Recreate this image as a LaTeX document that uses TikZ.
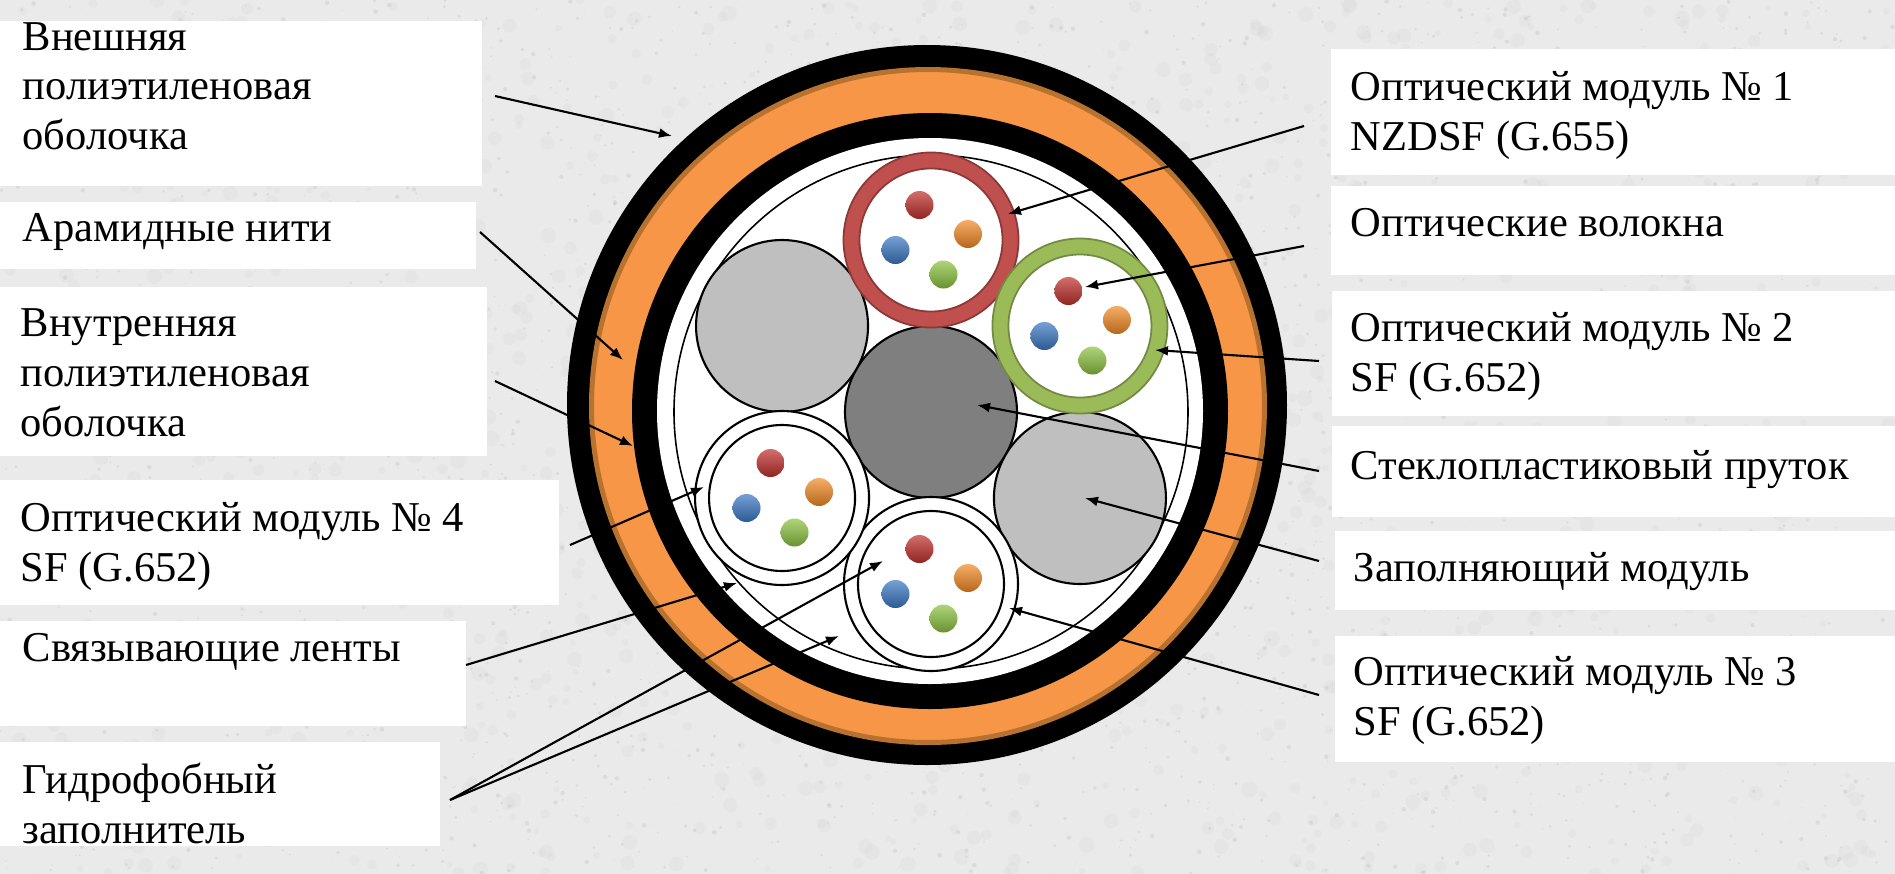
\documentclass[tikz,border=0pt]{standalone}
\usepackage{fontspec}
\setmainfont{Liberation Serif}
\usetikzlibrary{arrows.meta}

\definecolor{granite}{HTML}{EAEAEA}
\definecolor{sheathorange}{HTML}{F79646}
\definecolor{sheathrim}{HTML}{B8722F}
\definecolor{tubered}{HTML}{C0504D}
\definecolor{tuberedrim}{HTML}{8C3836}
\definecolor{tubegreen}{HTML}{9BBB59}
\definecolor{tubegreenrim}{HTML}{728A41}
\definecolor{fillergray}{HTML}{BFBFBF}
\definecolor{rodgray}{HTML}{7F7F7F}
\definecolor{fibred}{HTML}{C0302C}
\definecolor{fiborange}{HTML}{F28A25}
\definecolor{fibblue}{HTML}{3B78C4}
\definecolor{fibgreen}{HTML}{8CC240}

\newcommand{\tagfont}{\fontsize{12.1}{14.2}\selectfont}

% four coloured fibres inside one tube
\newcommand{\fibres}[1]{%
  \foreach \dx/\dy/\fc in {-0.115/0.35/fibred, 0.37/0.06/fiborange,
                           -0.355/-0.10/fibblue, 0.125/-0.345/fibgreen}
    \shade[top color=\fc!70!white, bottom color=\fc!75!black]
      ([shift={(\dx,\dy)}]#1) circle (0.14);
}

\begin{document}
\begin{tikzpicture}[
  tag/.style={fill=white, anchor=north west, inner sep=0pt, outer sep=0pt},
  txt/.style={anchor=north west, inner sep=0pt, align=left, font=\tagfont},
  layer/.style={circle, inner sep=0pt, outer sep=0pt},
  filler/.style={layer, draw, line width=0.6pt, fill=fillergray, minimum size=1.72cm},
  tube/.style={layer, draw, line width=0.6pt, fill=white, minimum size=1.74cm},
  lead/.style={-{Latex[length=1.3mm,width=1mm]}, line width=0.6pt},
]
\useasboundingbox (0,0) rectangle (18.95,-8.74);

% granite backdrop: soft blotches, then fine grain
\fill[granite] (0,0) rectangle (18.95,-8.74);
\pgfmathsetseed{42}
\foreach \i in {1,...,1400}
  \fill[gray!45, opacity=0.12] (18.95*rnd,-8.74*rnd) circle ({0.03+0.05*rnd});
\foreach \i in {1,...,3000}
  \fill[gray!60, opacity=0.25] (18.95*rnd,-8.74*rnd) circle ({0.005+0.018*rnd});

% sheaths, outside in
\node[layer, fill=black, minimum size=7.2cm] (jacket) at (9.27,-4.05) {};
\node[layer, fill=sheathorange, draw=sheathrim, line width=0.05cm,
      minimum size=6.73cm] (aramid) at (9.28,-4.06) {};
\node[layer, fill=black, minimum size=5.96cm] (inner) at (9.30,-4.11) {};
\node[layer, fill=white, minimum size=5.46cm] (core) at (9.30,-4.11) {};
\node[layer, draw, line width=0.45pt, minimum size=5.14cm] (tape) at (9.31,-4.12) {};

% tubes and fillers round the central rod
\coordinate (axis) at (9.31,-4.12);
\node[filler, fill=rodgray] (rod) at (axis) {};
\node[filler] (fillTop) at ([shift={(150:1.72)}]axis) {};
\node[filler] (fillLow) at ([shift={(-30:1.72)}]axis) {};

\node[tube, draw=tubered, line width=0.16cm, minimum size=1.59cm] (tube1) at ([shift={(90:1.72)}]axis) {};
\draw[tuberedrim, line width=0.5pt] (tube1) circle (0.875) (tube1) circle (0.715);
\node[tube, draw=tubegreen, line width=0.16cm, minimum size=1.59cm] (tube2) at ([shift={(30:1.72)}]axis) {};
\draw[tubegreenrim, line width=0.5pt] (tube2) circle (0.875) (tube2) circle (0.715);
\node[tube] (tube3) at ([shift={(-90:1.72)}]axis) {};
\draw[line width=0.6pt] (tube3) circle (0.73);
\node[tube] (tube4) at ([shift={(-150:1.72)}]axis) {};
\draw[line width=0.6pt] (tube4) circle (0.73);

\fibres{tube1}
\fibres{tube2}
\fibres{tube3}
\fibres{tube4}

% where the leaders point
\coordinate (tipJacket) at (6.72,-1.36);
\coordinate (tipAramid) at (6.23,-3.60);
\coordinate (tipInner) at (6.33,-4.46);
\coordinate (tipTube4) at (7.04,-4.87);
\coordinate (tipTape) at (7.37,-5.83);
\coordinate (tipGelA) at (8.83,-5.61);
\coordinate (tipGelB) at (8.39,-6.36);
\coordinate (tipTube1) at (10.08,-2.14);
\coordinate (tipFibre) at (10.85,-2.87);
\coordinate (tipTube2) at (11.55,-3.50);
\coordinate (tipRod) at (9.77,-4.05);
\coordinate (tipFiller) at (10.85,-4.98);
\coordinate (tipTube3) at (10.09,-6.08);

% left captions
\node[tag, minimum width=4.82cm, minimum height=1.65cm] (bOuter) at (0,-0.21) {};
\node[txt] (tOuter) at (0.22,-0.215) {Внешняя\\полиэтиленовая\\оболочка};
\node[tag, minimum width=4.76cm, minimum height=0.67cm] (bAramid) at (0,-2.02) {};
\node[txt] (tAramid) at (0.22,-2.13) {Арамидные нити};
\node[tag, minimum width=4.87cm, minimum height=1.69cm] (bInner) at (0,-2.87) {};
\node[txt] (tInner) at (0.20,-3.08) {Внутренняя\\полиэтиленовая\\оболочка};
\node[tag, minimum width=5.59cm, minimum height=1.25cm] (bTube4) at (0,-4.80) {};
\node[txt] (tTube4) at (0.20,-5.02) {Оптический модуль №~4\\SF (G.652)};
\node[tag, minimum width=4.66cm, minimum height=1.05cm] (bTape) at (0,-6.21) {};
\node[txt] (tTape) at (0.22,-6.33) {Связывающие ленты};
\node[tag, minimum width=4.40cm, minimum height=1.04cm] (bGel) at (0,-7.42) {};
\node[txt] (tGel) at (0.22,-7.62) {Гидрофобный\\заполнитель};

% right captions
\node[tag, minimum width=5.64cm, minimum height=1.255cm] (bTube1) at (13.31,-0.49) {};
\node[txt] (tTube1) at (13.50,-0.71) {Оптический модуль №~1\\NZDSF (G.655)};
\node[tag, minimum width=5.64cm, minimum height=0.885cm] (bFibre) at (13.31,-1.86) {};
\node[txt] (tFibre) at (13.50,-2.08) {Оптические волокна};
\node[tag, minimum width=5.63cm, minimum height=1.25cm] (bTube2) at (13.32,-2.91) {};
\node[txt] (tTube2) at (13.50,-3.12) {Оптический модуль №~2\\SF (G.652)};
\node[tag, minimum width=5.63cm, minimum height=0.91cm] (bRod) at (13.32,-4.26) {};
\node[txt] (tRod) at (13.50,-4.50) {Стеклопластиковый пруток};
\node[tag, minimum width=5.60cm, minimum height=0.79cm] (bFiller) at (13.35,-5.31) {};
\node[txt] (tFiller) at (13.53,-5.52) {Заполняющий модуль};
\node[tag, minimum width=5.60cm, minimum height=1.26cm] (bTube3) at (13.35,-6.36) {};
\node[txt] (tTube3) at (13.53,-6.56) {Оптический модуль №~3\\SF (G.652)};

% leaders
\draw[lead] ([shift={(0.13,0.075)}]bOuter.east) -- (tipJacket);
\draw[lead] ([shift={(0.04,0.035)}]bAramid.east) -- (tipAramid);
\draw[lead] ([shift={(0.08,-0.095)}]bInner.east) -- (tipInner);
\draw[lead] ([shift={(0.11,-0.025)}]bTube4.east) -- (tipTube4);
\draw[lead] ([shift={(0,0.085)}]bTape.east) -- (tipTape);
\draw[lead] ([shift={(0.10,-0.06)}]bGel.east) -- (tipGelA);
\draw[lead] ([shift={(0.10,-0.06)}]bGel.east) -- (tipGelB);
\draw[lead] ([shift={(-0.27,-0.1425)}]bTube1.west) -- (tipTube1);
\draw[lead] ([shift={(-0.27,-0.1575)}]bFibre.west) -- (tipFibre);
\draw[lead] ([shift={(-0.13,-0.075)}]bTube2.west) -- (tipTube2);
\draw[lead] ([shift={(-0.13,0.005)}]bRod.west) -- (tipRod);
\draw[lead] ([shift={(-0.16,0.095)}]bFiller.west) -- (tipFiller);
\draw[lead] ([shift={(-0.16,0.04)}]bTube3.west) -- (tipTube3);
\end{tikzpicture}
\end{document}
